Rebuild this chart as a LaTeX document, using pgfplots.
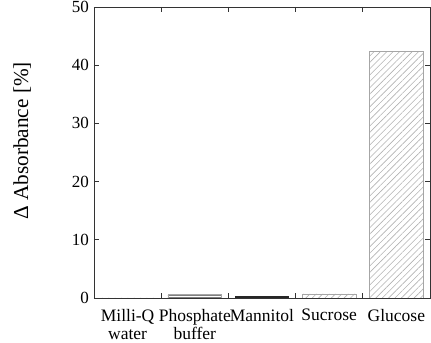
\documentclass[border=0pt]{standalone}
\usepackage{graphicx}
\usepackage{fontspec}
\setmainfont{Liberation Serif}
\usepackage{pgfplots}
\pgfplotsset{compat=1.18}
\usetikzlibrary{patterns,patterns.meta}
\begin{document}
\fontsize{17bp}{19bp}\selectfont
\begin{tikzpicture}
\begin{axis}[
  scale only axis,
  width=336bp, height=291bp,
  xmin=-0.5, xmax=4.5,
  ymin=0, ymax=50,
  ytick={0,10,20,30,40,50},
  xtick={0,1,2,3,4},
  xticklabels={{Milli-Q\\water},{Phosphate\\buffer},Mannitol,Sucrose,Glucose},
  xticklabel style={align=center, inner sep=0pt, font=\fontsize{17.5bp}{18.5bp}\selectfont, text depth=3bp},
  major x tick style={draw=none},
  minor xtick={0.5,1.5,2.5,3.5},
  minor tick length=5bp,
  major tick length=5bp,
  tick align=inside,
  yticklabel style={inner ysep=0pt, inner xsep=3bp},
  /pgf/number format/assume math mode=true,
  ylabel={\scalebox{1.25}{Δ Absorbance [\%]}},
  ylabel style={at={(axis description cs:-0.214,0.54)}, anchor=center},
  axis line style={gray!40!black},
  every tick/.style={gray!40!black, line width=0.8pt},
  xticklabel shift=11bp,
  yticklabel shift=2bp,
]
\addplot[ybar, bar width=0.8, draw=gray!70, line width=0.8pt,
  pattern={Lines[angle=45,distance=4.5bp,line width=0.6bp]}, pattern color=gray!60]
  coordinates {(0,0) (3,0.7) (4,42.3)};
\addplot[ybar, bar width=0.8, draw=gray!70, line width=0.8pt,
  pattern={Lines[angle=0,distance=2bp,line width=0.6bp]}, pattern color=gray]
  coordinates {(1,0.55)};
\addplot[ybar, bar width=0.8, draw=black!85, line width=0.8pt, fill=black!85]
  coordinates {(2,0.3)};
\end{axis}
\pgfresetboundingbox
\path[use as bounding box] ([shift={(-94bp,-45bp)}]current axis.south west) rectangle ([shift={(1bp,7bp)}]current axis.north east);
\end{tikzpicture}
\end{document}
